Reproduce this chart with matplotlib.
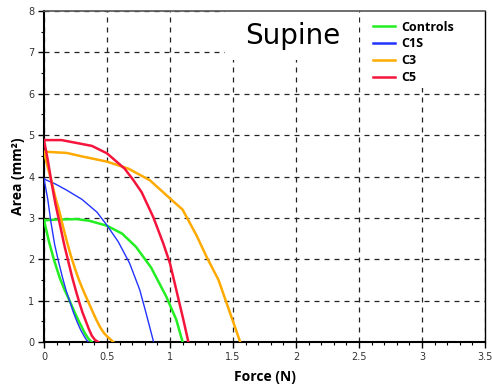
import matplotlib
matplotlib.use("Agg")
import matplotlib.pyplot as plt
from matplotlib.patches import Rectangle
from matplotlib.ticker import MultipleLocator

# steep (loading) branches, force in N, area in mm^2
ctrl_f1 = [0, 0.04, 0.08, 0.125, 0.165, 0.206, 0.24, 0.272, 0.30, 0.325, 0.35, 0.378]
ctrl_a1 = [2.95, 2.42, 1.98, 1.55, 1.25, 0.98, 0.74, 0.53, 0.36, 0.21, 0.09, 0]
c1s_f1 = [0, 0.03, 0.055, 0.085, 0.115, 0.145, 0.175, 0.205, 0.235, 0.265, 0.29, 0.315, 0.335, 0.352]
c1s_a1 = [3.95, 3.45, 2.9, 2.35, 1.95, 1.58, 1.25, 0.98, 0.7, 0.47, 0.3, 0.16, 0.06, 0]
c3_f1 = [0, 0.03, 0.06, 0.09, 0.12, 0.15, 0.18, 0.21, 0.245, 0.28, 0.315, 0.35, 0.385, 0.415, 0.445, 0.475, 0.5, 0.55]
c3_a1 = [4.6, 4.22, 3.88, 3.5, 3.18, 2.8, 2.45, 2.12, 1.78, 1.48, 1.22, 0.98, 0.74, 0.54, 0.36, 0.22, 0.14, 0]
c5_f1 = [0, 0.03, 0.06, 0.09, 0.125, 0.16, 0.195, 0.225, 0.255, 0.28, 0.305, 0.33, 0.355, 0.38, 0.405, 0.43]
c5_a1 = [4.88, 4.4, 3.85, 3.35, 2.86, 2.36, 1.92, 1.55, 1.22, 0.96, 0.72, 0.52, 0.32, 0.15, 0.05, 0]

# rounded branches
ctrl_f2 = [0, 0.1, 0.26, 0.36, 0.5, 0.62, 0.73, 0.85, 0.97, 1.05, 1.10]
ctrl_a2 = [2.94, 2.96, 2.97, 2.93, 2.81, 2.62, 2.30, 1.80, 1.10, 0.54, 0]
c1s_f2 = [0, 0.09, 0.18, 0.30, 0.42, 0.50, 0.59, 0.68, 0.76, 0.81, 0.87]
c1s_a2 = [3.94, 3.82, 3.67, 3.45, 3.14, 2.82, 2.42, 1.90, 1.26, 0.70, 0]
c3_f2 = [0, 0.18, 0.31, 0.50, 0.67, 0.84, 1.0, 1.1, 1.21, 1.29, 1.385, 1.477, 1.557]
c3_a2 = [4.60, 4.57, 4.48, 4.36, 4.19, 3.91, 3.47, 3.2, 2.58, 2.06, 1.50, 0.70, 0]
c5_f2 = [0, 0.14, 0.26, 0.38, 0.50, 0.64, 0.71, 0.775, 0.867, 0.947, 1.0, 1.05, 1.106, 1.146]
c5_a2 = [4.88, 4.88, 4.81, 4.74, 4.56, 4.19, 3.91, 3.62, 3.02, 2.38, 1.90, 1.26, 0.54, 0]

labels = ["Controls", "C1S", "C3", "C5"]
colors = ["#22ee22", "#2233ff", "#ffaa00", "#f5143c"]

fig = plt.figure(figsize=(4.92, 3.89), dpi=100)
ax = fig.add_axes([0.0894, 0.1208, 0.8964, 0.8509])

series = [(ctrl_f1, ctrl_a1, ctrl_f2, ctrl_a2),
          (c1s_f1, c1s_a1, c1s_f2, c1s_a2),
          (c3_f1, c3_a1, c3_f2, c3_a2),
          (c5_f1, c5_a1, c5_f2, c5_a2)]
handles = []
for (f1, a1, f2, a2), lab, col in zip(series, labels, colors):
    lw = 1.0 if lab == "C1S" else 1.8
    ax.plot(f1, a1, color=col, lw=lw, zorder=3)
    ax.plot(f2, a2, color=col, lw=lw, zorder=3)
    h, = ax.plot([], [], color=col, lw=1.8, label=lab)
    handles.append(h)

ax.set_xlim(0, 3.5)
ax.set_ylim(0, 8)
ax.xaxis.set_major_locator(MultipleLocator(0.5))
ax.xaxis.set_minor_locator(MultipleLocator(0.1))
ax.yaxis.set_major_locator(MultipleLocator(1))
ax.yaxis.set_minor_locator(MultipleLocator(0.5))
ax.set_xticks([0, 0.5, 1, 1.5, 2, 2.5, 3, 3.5])
ax.set_xticklabels(["0", "0.5", "1", "1.5", "2", "2.5", "3", "3.5"])
ax.tick_params(which="major", direction="out", length=4, width=1, labelsize=7,
               labelcolor="#333333", pad=3)
ax.tick_params(which="minor", direction="out", length=2.5, width=0.8)

ax.grid(True, which="major", color="#222222", linestyle=(0, (4, 4)), linewidth=0.9, zorder=1)
ax.set_axisbelow(True)

for side in ["left", "bottom"]:
    ax.spines[side].set_linewidth(1.5)
    ax.spines[side].set_color("black")
ax.spines["right"].set_linewidth(1.0)
ax.spines["top"].set_color("#555555")
ax.spines["top"].set_linewidth(1.2)

ax.set_xlabel("Force (N)", fontfamily="Open Sans", fontweight="bold", fontsize=10, labelpad=6)
ax.set_ylabel("Area (mm²)", fontfamily="Open Sans", fontweight="bold", fontsize=10, labelpad=2)

# white boxes behind title and legend
ax.add_patch(Rectangle((0.41, 0.852), 0.305, 0.148, transform=ax.transAxes,
                       facecolor="white", edgecolor="none", zorder=2))
ax.add_patch(Rectangle((0.721, 0.767), 0.279, 0.233, transform=ax.transAxes,
                       facecolor="white", edgecolor="none", zorder=2))
ax.text(0.565, 0.924, "Supine", transform=ax.transAxes, fontsize=20,
        ha="center", va="center", zorder=4)

leg = ax.legend(handles=handles, loc="upper left", bbox_to_anchor=(0.735, 0.986),
                frameon=False,
                prop={"family": "Open Sans", "weight": "bold", "size": 9},
                handlelength=1.75, handletextpad=0.5, labelspacing=0.3,
                borderpad=0.4, borderaxespad=0)
leg.set_zorder(5)

fig.savefig("out.png", dpi=100)
